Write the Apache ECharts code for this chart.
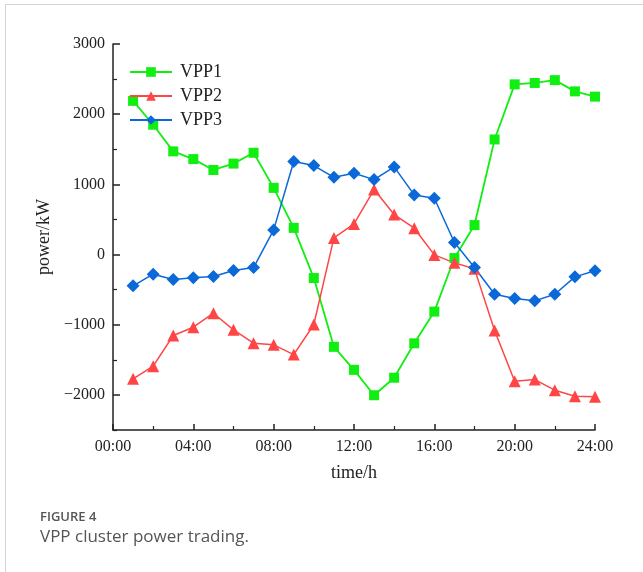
<!DOCTYPE html>
<html>
<head>
<meta charset="utf-8">
<script src="https://cdn.jsdelivr.net/npm/echarts@6/dist/echarts.min.js"></script>
<style>
html,body{margin:0;padding:0;background:#fff;}
#frame{position:absolute;left:5px;top:4px;width:650px;height:580px;border-top:1px solid #d4d4d4;border-left:1px solid #d4d4d4;}
#chart{position:absolute;left:0;top:0;width:643px;height:572px;}
</style>
</head>
<body>
<div id="frame"></div>
<div id="chart"></div>
<script>
var hours = [1,2,3,4,5,6,7,8,9,10,11,12,13,14,15,16,17,18,19,20,21,22,23,24];
var vpp1 = [2190,1850,1470,1360,1205,1296,1450,950,380,-335,-1315,-1643,-2005,-1755,-1265,-813,-50,420,1640,2425,2445,2485,2325,2250];
var vpp2 = [-1771,-1591,-1154,-1035,-836,-1073,-1263,-1287,-1425,-997,237,437,926,570,375,-5,-118,-204,-1083,-1804,-1781,-1933,-2018,-2027];
var vpp3 = [-446,-280,-356,-332,-313,-228,-185,351,1325,1268,1101,1158,1068,1249,850,802,171,-185,-565,-627,-660,-565,-318,-232];
var seriesNames = ['VPP1','VPP2','VPP3'];
var yLabelValues = [-2000,-1000,0,1000,2000,3000];
var yMinorValues = [-2500,-1500,-500,500,1500,2500];

function pairs(v){ return hours.map(function(h,i){ return [h, v[i]]; }); }

var serif = '"Liberation Serif", "DejaVu Serif", serif';
var chart = echarts.init(document.getElementById('chart'), null, {renderer:'canvas'});

var option = {
  animation:false,
  backgroundColor:'transparent',
  grid:{left:113, right:48, top:44, bottom:142},
  legend:{
    orient:'vertical', left:124, top:58, itemWidth:42, itemHeight:12, itemGap:6,
    textStyle:{fontFamily:serif, fontSize:18, color:'#222', padding:[0,0,0,3]},
    data:seriesNames
  },
  xAxis:{
    type:'value', min:0, max:24, interval:4,
    name:'time/h', nameLocation:'middle', nameGap:34,
    nameTextStyle:{fontFamily:serif, fontSize:18, color:'#222'},
    axisLine:{show:true, onZero:false, lineStyle:{color:'#222', width:1.5}},
    axisTick:{show:true, inside:true, length:6, lineStyle:{color:'#222', width:1.5}},
    minorTick:{show:true, splitNumber:2, length:4, lineStyle:{color:'#222', width:1.2}},
    splitLine:{show:false}, minorSplitLine:{show:false},
    axisLabel:{fontFamily:serif, fontSize:16, color:'#222', margin:9,
      formatter:function(v){ var h = Math.round(v); return (h<10?'0':'')+h+':00'; }}
  },
  yAxis:[{
    type:'value', min:-2500, max:3000,
    name:'power/kW', nameLocation:'middle', nameGap:53,
    nameTextStyle:{fontFamily:serif, fontSize:18, color:'#222'},
    axisLine:{show:true, onZero:false, lineStyle:{color:'#222', width:1.5}},
    axisTick:{show:true, inside:true, length:7, customValues:yLabelValues, lineStyle:{color:'#222', width:1.5}},
    splitLine:{show:false},
    axisLabel:{fontFamily:serif, fontSize:16, color:'#222', margin:8, customValues:yLabelValues,
      formatter:function(v){ return v<0 ? '\u2212'+(-v) : String(v); }}
  },{
    type:'value', min:-2500, max:3000, position:'left',
    axisLine:{show:false, onZero:false},
    axisTick:{show:true, inside:true, length:4, customValues:yMinorValues, lineStyle:{color:'#222', width:1.2}},
    axisLabel:{show:false}, splitLine:{show:false}
  }],
  series:[
    {name:seriesNames[0], type:'line', data:pairs(vpp1), symbol:'rect', symbolSize:10,
      itemStyle:{color:'#11ee11'}, lineStyle:{color:'#11ee11', width:1.8}},
    {name:seriesNames[1], type:'line', data:pairs(vpp2), symbol:'triangle', symbolSize:12,
      itemStyle:{color:'#ff4545'}, lineStyle:{color:'#ff4545', width:1.5}},
    {name:seriesNames[2], type:'line', data:pairs(vpp3), symbol:'diamond', symbolSize:13,
      itemStyle:{color:'#0a68d8'}, lineStyle:{color:'#0a68d8', width:1.5}}
  ],
  graphic:[
    {type:'text', left:40, top:511, style:{text:'FIGURE 4', fontFamily:'"Open Sans", sans-serif', fontSize:13, fontWeight:600, fill:'#555'}},
    {type:'text', left:40, top:529, style:{text:'VPP cluster power trading.', fontFamily:'"Open Sans", sans-serif', fontSize:17, fill:'#555'}}
  ]
};
chart.setOption(option);
</script>
</body>
</html>
